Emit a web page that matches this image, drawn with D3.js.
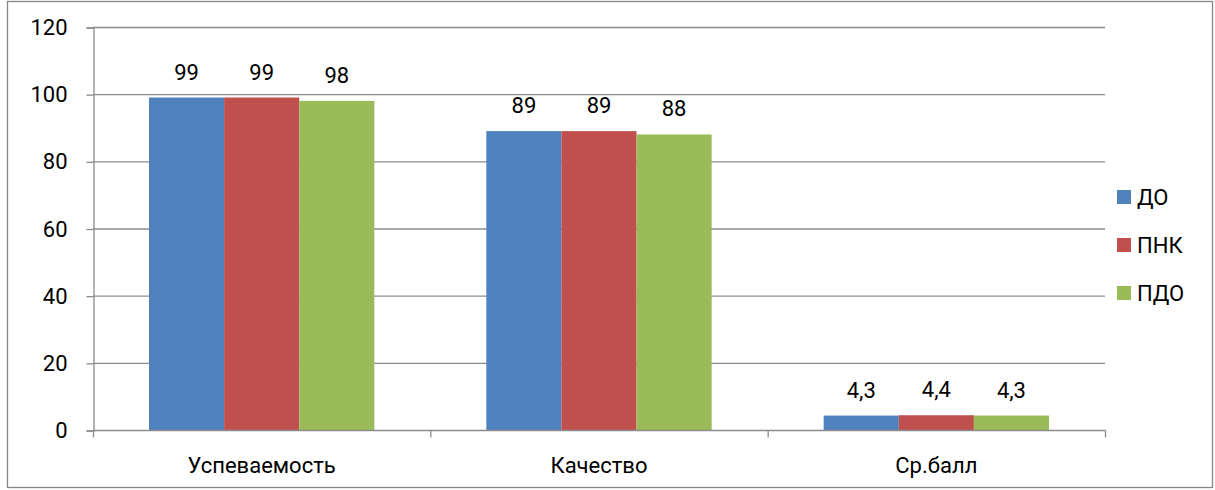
<!DOCTYPE html>
<html>
<head>
<meta charset="utf-8">
<script src="https://cdn.jsdelivr.net/npm/d3@7"></script>
<style>
  body { margin: 0; background: #fff; }
  text { font-family: Roboto, "Noto Sans", sans-serif; fill: #000; }
</style>
</head>
<body>
<div id="chart"></div>
<script>
const categories = ["Успеваемость", "Качество", "Ср.балл"];
const seriesNames = ["ДО", "ПНК", "ПДО"];
const seriesColors = ["#4F81BD", "#C0504D", "#9BBB59"];
const valuesDO = [99, 89, 4.3];
const valuesPNK = [99, 89, 4.4];
const valuesPDO = [98, 88, 4.3];
const yTicks = [0, 20, 40, 60, 80, 100, 120];

const series = [valuesDO, valuesPNK, valuesPDO];

const width = 1215, height = 490;
const plotLeft = 93, plotRight = 1105, plotTop = 27, plotBottom = 430;

var svg = d3.select("#chart").append("svg").attr("width", width).attr("height", height)

// outer frame
svg.append("rect")
  .attr("x", 7.5).attr("y", 1.5)
  .attr("width", 1205).attr("height", 486)
  .attr("fill", "none").attr("stroke", "#868686").attr("stroke-width", 1.3)

const y = d3.scaleLinear().domain([0, 120]).range([plotBottom, plotTop]);
const x0 = d3.scaleBand().domain(categories).range([plotLeft, plotRight]).paddingInner(0).paddingOuter(0);
const x1 = d3.scaleBand().domain(d3.range(3)).range([56, x0.bandwidth() - 56]);

// gridlines
svg.append("g").selectAll("line").data(yTicks.filter(d => d > 0)).join("line")
  .attr("x1", plotLeft).attr("x2", plotRight)
  .attr("y1", d => y(d) + 0.5).attr("y2", d => y(d) + 0.5)
  .attr("stroke", "#8c8c8c").attr("stroke-width", 1.3)

// bars
categories.forEach((c, ci) => {
  series.forEach((vals, si) => {
    svg.append("rect")
      .attr("x", x0(c) + x1(si))
      .attr("y", y(vals[ci]))
      .attr("width", x1.bandwidth())
      .attr("height", plotBottom - y(vals[ci]))
      .attr("fill", seriesColors[si])
    svg.append("text")
      .attr("x", x0(c) + x1(si) + x1.bandwidth() / 2)
      .attr("y", y(vals[ci]) - 18)
      .attr("text-anchor", "middle")
      .style("font-size", "22px")
      .text(String(vals[ci]).replace(".", ","))
  })
})

// y axis
const yAxis = svg.append("g").attr("transform", `translate(${plotLeft + 0.5},0.5)`)
  .call(d3.axisLeft(y).tickValues(yTicks).tickSize(7).tickPadding(19))
yAxis.select(".domain").attr("stroke", "#8c8c8c").attr("stroke-width", 1.3)
yAxis.selectAll(".tick line").attr("stroke", "#8c8c8c").attr("stroke-width", 1.3)
yAxis.selectAll(".tick text").style("font-size", "22px").style("font-family", "Roboto, sans-serif").attr("fill", "#000")

// x axis
const xAxis = svg.append("g").attr("transform", `translate(0,${plotBottom + 0.5})`)
xAxis.append("line").attr("x1", plotLeft).attr("x2", plotRight + 0.5).attr("stroke", "#8c8c8c").attr("stroke-width", 1.3)
xAxis.selectAll("line.tk").data(d3.range(4)).join("line").attr("class", "tk")
  .attr("x1", i => plotLeft + 0.5 + i * x0.step()).attr("x2", i => plotLeft + 0.5 + i * x0.step())
  .attr("y1", 0).attr("y2", 7)
  .attr("stroke", "#8c8c8c").attr("stroke-width", 1.3)
xAxis.selectAll("text").data(categories).join("text")
  .attr("x", d => x0(d) + x0.bandwidth() / 2)
  .attr("y", 42)
  .attr("text-anchor", "middle")
  .style("font-size", "22px")
  .text(d => d)

// legend
const legend = svg.append("g")
seriesNames.forEach((name, i) => {
  const cy = 197 + i * 48;
  legend.append("rect").attr("x", 1117).attr("y", cy - 7).attr("width", 14).attr("height", 14).attr("fill", seriesColors[i])
  legend.append("text").attr("x", 1137).attr("y", cy + 8).style("font-size", "22px").text(name)
})
</script>
</body>
</html>
